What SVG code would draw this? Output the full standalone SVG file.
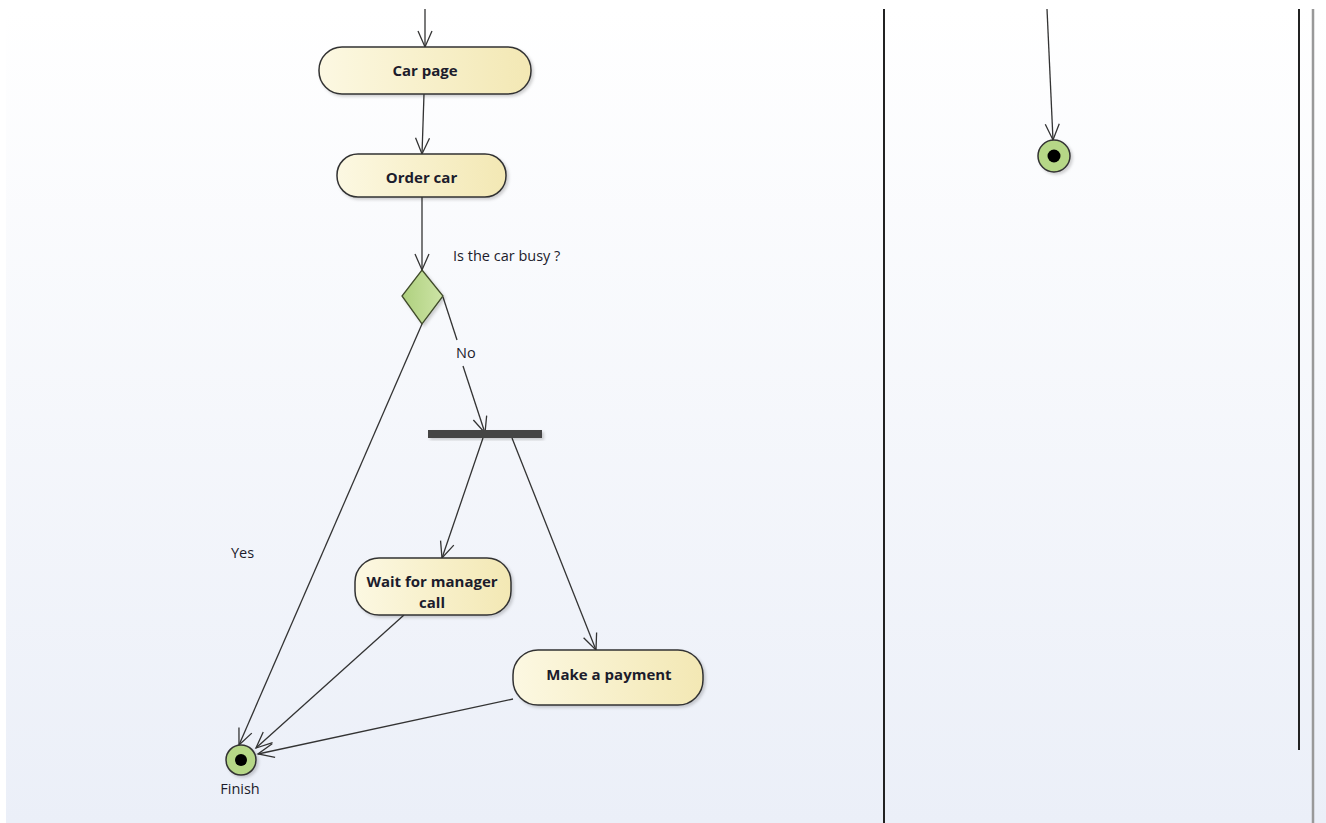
<svg xmlns="http://www.w3.org/2000/svg" width="1326" height="823" viewBox="0 0 1326 823">
  <defs>
    <linearGradient id="bg" x1="0" y1="0" x2="0" y2="1">
      <stop offset="0" stop-color="#ffffff"/>
      <stop offset="1" stop-color="#ebeff8"/>
    </linearGradient>
    <linearGradient id="actionFill" x1="0" y1="0" x2="1" y2="0">
      <stop offset="0" stop-color="#fcf8e2"/>
      <stop offset="1" stop-color="#f3e8b4"/>
    </linearGradient>
    <linearGradient id="decisionFill" x1="0" y1="0" x2="1" y2="0">
      <stop offset="0" stop-color="#aed07e"/>
      <stop offset="1" stop-color="#cde4a6"/>
    </linearGradient>
    <filter id="shadow" x="-10%" y="-10%" width="130%" height="140%">
      <feDropShadow dx="2" dy="2" stdDeviation="1.5" flood-color="#000" flood-opacity="0.18"/>
    </filter>
    <marker id="open" markerUnits="userSpaceOnUse" markerWidth="22" markerHeight="18" refX="17" refY="8" orient="auto">
      <path d="M1,1 L17,8 L1,15" fill="none" stroke="#333" stroke-width="1.3"/>
    </marker>
    <style>
      .action { fill: url(#actionFill); stroke: #333; stroke-width: 1.5; filter: url(#shadow); }
      .decision { fill: url(#decisionFill); stroke: #3f4a2a; stroke-width: 1.3; filter: url(#shadow); }
      .final { fill: #b6d787; stroke: #333; stroke-width: 1.5; filter: url(#shadow); }
      .dot { fill: #000; }
      .bar { fill: #444; filter: url(#shadow); }
      .flow { fill: none; stroke: #333; stroke-width: 1.3; }
      .arrow { marker-end: url(#open); }
      .lane { stroke: #222; stroke-width: 2; }
      .lane2 { stroke: #999; stroke-width: 2.5; }
      .title { font-family: "Open Sans", "Liberation Sans", sans-serif; font-weight: bold; font-size: 15px; fill: #1c1c2c; text-anchor: middle; }
      .label { font-family: "Open Sans", "Liberation Sans", sans-serif; font-size: 14.5px; fill: #1c1c2c; }
    </style>
  </defs>

  <!-- canvas -->
  <rect x="0" y="0" width="1326" height="823" fill="#ffffff"/>
  <rect x="6" y="9" width="1320" height="814" fill="url(#bg)"/>

  <!-- swimlane partitions -->
  <g id="lanes">
    <line class="lane" x1="884" y1="9" x2="884" y2="823"/>
    <line class="lane" x1="1299" y1="9" x2="1299" y2="750"/>
    <line class="lane2" x1="1313" y1="9" x2="1313" y2="823"/>
  </g>

  <!-- control flows -->
  <g id="connectors">
    <line class="flow arrow" x1="425" y1="9" x2="425" y2="47"/>
    <line class="flow arrow" x1="424" y1="94" x2="422" y2="154"/>
    <line class="flow arrow" x1="422" y1="197" x2="422" y2="270"/>
    <!-- No branch, broken around its label -->
    <line class="flow" x1="443" y1="297" x2="457" y2="340"/>
    <line class="flow arrow" x1="463" y1="366" x2="485" y2="433"/>
    <!-- Yes branch -->
    <line class="flow arrow" x1="422" y1="324" x2="239" y2="745"/>
    <!-- fork outgoing -->
    <line class="flow arrow" x1="483" y1="438" x2="442" y2="558"/>
    <line class="flow arrow" x1="512" y1="438" x2="596" y2="650"/>
    <!-- to Finish -->
    <line class="flow arrow" x1="404" y1="615" x2="256" y2="748"/>
    <line class="flow arrow" x1="513" y1="699" x2="258" y2="754"/>
    <!-- right lane flow -->
    <line class="flow arrow" x1="1047" y1="9" x2="1053" y2="140"/>
  </g>

  <g id="car-page">
    <rect class="action" x="319" y="47" width="212" height="47" rx="23"/>
    <text class="title" x="425" y="76">Car page</text>
  </g>

  <g id="order-car">
    <rect class="action" x="337" y="154" width="169" height="43" rx="21"/>
    <text class="title" x="421.5" y="183">Order car</text>
  </g>

  <g id="decision">
    <polygon class="decision" points="422,270 443,296 422,324 402,296"/>
    <text class="label" x="453" y="261">Is the car busy ?</text>
    <text class="label" x="456" y="358">No</text>
    <text class="label" x="231" y="558">Yes</text>
  </g>

  <g id="fork">
    <rect class="bar" x="428" y="430" width="114" height="8"/>
  </g>

  <g id="wait-for-manager">
    <rect class="action" x="355" y="558" width="156" height="57" rx="24"/>
    <text class="title" x="432" y="587">Wait for manager</text>
    <text class="title" x="432" y="608">call</text>
  </g>

  <g id="make-payment">
    <rect class="action" x="513" y="650" width="190" height="55" rx="25"/>
    <text class="title" x="609" y="680">Make a payment</text>
  </g>

  <g id="finish">
    <circle class="final" cx="241" cy="760" r="15"/>
    <circle class="dot" cx="241" cy="760" r="6"/>
    <text class="label" x="240" y="794" text-anchor="middle">Finish</text>
  </g>

  <g id="final-right">
    <circle class="final" cx="1054" cy="156" r="16"/>
    <circle class="dot" cx="1054" cy="156" r="6.5"/>
  </g>
</svg>
